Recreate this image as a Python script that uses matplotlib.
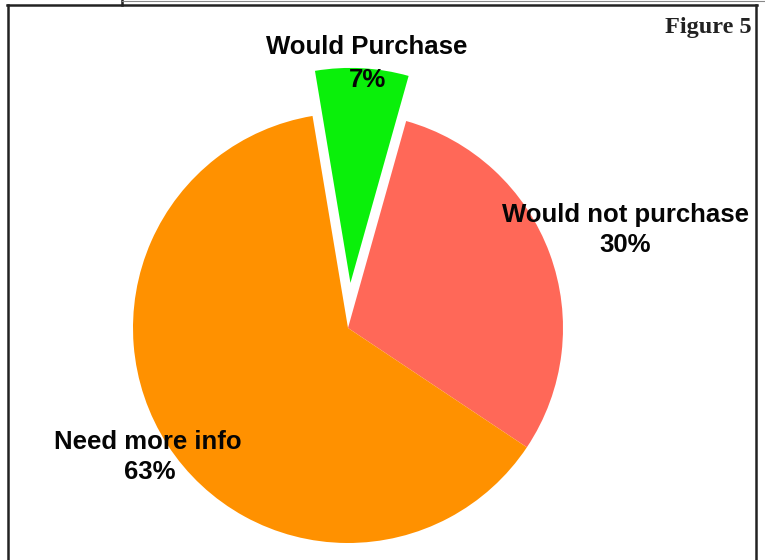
import matplotlib
matplotlib.use("Agg")
import matplotlib.pyplot as plt
from matplotlib.lines import Line2D

# ---- data ----
categories = ["Would Purchase", "Would not purchase", "Need more info"]
values = [7, 30, 63]
pct_labels = ["7%", "30%", "63%"]
colors = ["#0AF00A", "#FF6858", "#FF9100"]
explode = [0.21, 0.0, 0.0]

W, H = 765, 560
fig = plt.figure(figsize=(W / 100, H / 100), dpi=100)
fig.patch.set_facecolor("white")

# axes covering the whole figure; 1 data unit = 215 px, pie centre at (348, 328) px
cx, cy, R = 348, 328, 215
ax = fig.add_axes([0, 0, 1, 1])
ax.pie(values, colors=colors, explode=explode, startangle=99.5,
       counterclock=False, radius=1.0,
       wedgeprops=dict(linewidth=0.6, edgecolor="none"))
ax.set_xlim(-cx / R, (W - cx) / R)
ax.set_ylim((cy - H) / R, cy / R)
ax.set_aspect("auto")
ax.axis("off")

def fx(px):
    return px / W

def fy(py):
    return 1 - py / H

label_font = dict(family=["Liberation Sans", "DejaVu Sans"], fontweight="bold",
                  fontsize=18.5, color="#050505", ha="center", va="center")

label_pos = [((367, 47), (367, 80)), ((625, 215), (625, 245)), ((148, 442), (150, 472))]
for cat, pct, ((x1, y1), (x2, y2)) in zip(categories, pct_labels, label_pos):
    fig.text(fx(x1), fy(y1), cat, **label_font)
    fig.text(fx(x2), fy(y2), pct, **label_font)

fig.text(fx(752), fy(27), "Figure 5", family=["Liberation Serif", "DejaVu Serif"],
         fontweight="bold", fontsize=17.5, color="#222222", ha="right", va="center")

# frame lines
frame_kw = dict(color="#222222", linewidth=1.8, transform=fig.transFigure)
fig.add_artist(Line2D([fx(7), fx(757)], [fy(4.5), fy(4.5)], **frame_kw))
fig.add_artist(Line2D([fx(7.5), fx(7.5)], [fy(4.5), fy(560)], **frame_kw))
fig.add_artist(Line2D([fx(756), fx(756)], [fy(4.5), fy(560)], **frame_kw))
fig.add_artist(Line2D([fx(121.5), fx(121.5)], [fy(0), fy(4.5)], **frame_kw))
fig.add_artist(Line2D([fx(121.5), fx(765)], [fy(0.5), fy(0.5)],
                      color="#888888", linewidth=0.8, transform=fig.transFigure))

fig.savefig("out.png", dpi=100, facecolor="white")
